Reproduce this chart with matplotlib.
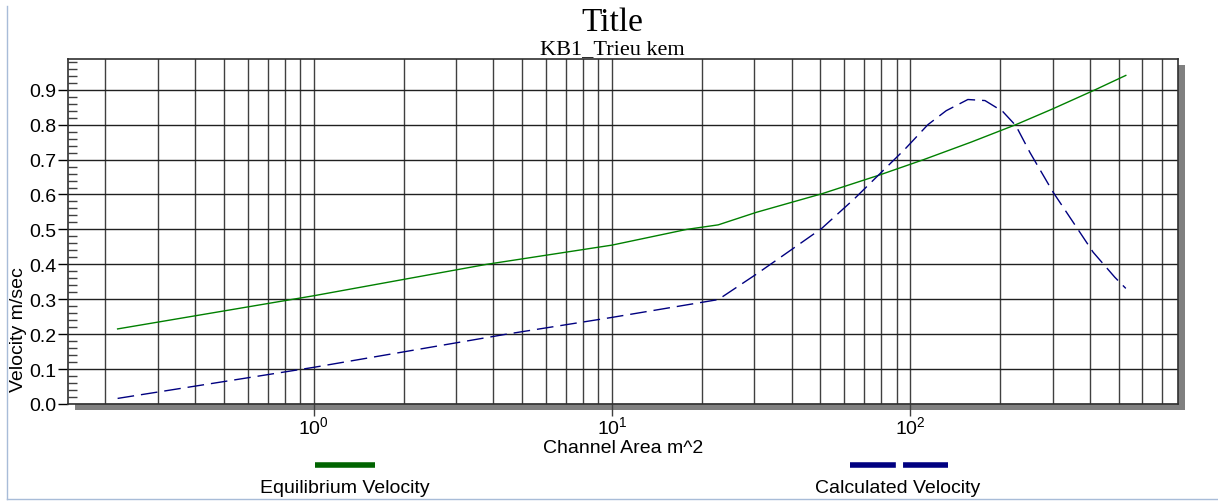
import matplotlib
matplotlib.use("Agg")
import matplotlib.pyplot as plt
from matplotlib.ticker import LogLocator, MultipleLocator, FixedLocator, NullFormatter
from matplotlib.patches import Rectangle
from matplotlib.lines import Line2D

plt.rcParams['font.family'] = ['Liberation Sans', 'DejaVu Sans']
plt.rcParams['mathtext.fontset'] = 'custom'
plt.rcParams['mathtext.rm'] = 'Liberation Sans'

# Equilibrium velocity (green, solid)
eq_area = [0.22, 1.0, 3.8, 10, 17.8, 22.7, 30.5, 50.5, 79, 111, 160, 226, 300, 417, 528]
eq_vel = [0.215, 0.31, 0.40, 0.455, 0.50, 0.513, 0.549, 0.602, 0.656, 0.70, 0.75, 0.80, 0.845, 0.90, 0.941]

# Calculated velocity (blue, dashed)
calc_area = [0.22, 1.0, 4.43, 10, 22.7, 30.5, 39.5, 50.5, 65, 79, 96, 114.6, 132,
             156, 178, 204, 226, 252, 301, 361, 410, 485, 528]
calc_vel = [0.016, 0.105, 0.20, 0.248, 0.299, 0.372, 0.439, 0.503, 0.588, 0.659, 0.73,
            0.80, 0.84, 0.872, 0.869, 0.838, 0.797, 0.72, 0.607, 0.506, 0.435, 0.363, 0.331]

W, H = 1218, 502
fig = plt.figure(figsize=(W / 100, H / 100), dpi=100)

x0, x1, y0, y1 = 68, 1178, 60, 405
ax = fig.add_axes([x0 / W, 1 - y1 / H, (x1 - x0) / W, (y1 - y0) / H])

# drop shadow behind the plot box
fig.patches.append(Rectangle(((x0 + 7) / W, 1 - (y1 + 6) / H), (x1 - x0) / W, (y1 - y0) / H,
                             transform=fig.transFigure, facecolor='#808080',
                             edgecolor='none', zorder=0))
ax.set_zorder(1)

ax.plot(eq_area, eq_vel, color='#008000', lw=1.0, zorder=3)
ax.plot(calc_area, calc_vel, color='#000080', lw=1.0, dashes=(12, 5), zorder=3)

ax.set_xscale('log')
ax.set_xlim(0.15, 790)
ax.set_ylim(0, 0.988)

ax.xaxis.set_major_locator(FixedLocator([1, 10, 100]))
ax.xaxis.set_major_formatter(matplotlib.ticker.FixedFormatter(['$10^{0}$', '$10^{1}$', '$10^{2}$']))
ax.xaxis.set_minor_locator(LogLocator(base=10, subs=range(2, 10)))
ax.xaxis.set_minor_formatter(NullFormatter())
ax.yaxis.set_major_locator(MultipleLocator(0.1))
ax.yaxis.set_minor_locator(MultipleLocator(0.02))
ax.yaxis.set_major_formatter(matplotlib.ticker.FormatStrFormatter('%.1f'))

ax.tick_params(axis='x', which='major', length=8.6, width=1, color='#404040', pad=0, labelsize=14)
ax.tick_params(axis='x', which='minor', length=0)
ax.tick_params(axis='y', which='major', length=7.2, width=1, pad=1, labelsize=14)
ax.tick_params(axis='y', which='minor', direction='in', length=6.5, width=1, color='#404040')

ax.grid(which='both', axis='x', color='#404040', lw=1.0)
ax.grid(which='major', axis='y', color='#202020', lw=1.0)
ax.set_axisbelow(True)
for s in ax.spines.values():
    s.set_color('#303030')
    s.set_linewidth(1.2)

fig.text(612 / W, 1 - 23 / H, 'Title', family='Liberation Serif', fontsize=24,
         ha='center', va='center')
fig.text(612 / W, 1 - 50 / H, 'KB1_Trieu kem', family='Liberation Serif', fontsize=16,
         ha='center', va='center')
fig.text(623 / W, 1 - 453 / H, 'Channel Area m^2', fontsize=14, ha='center', va='baseline')
fig.text(19 / W, 1 - 330 / H, 'Velocity m/sec', fontsize=14, rotation=90,
         ha='center', va='center')

# legend keys drawn below the axis
fig.add_artist(Line2D([315 / W, 375 / W], [1 - 466 / H] * 2, transform=fig.transFigure,
                      color='#006400', lw=4, solid_capstyle='butt'))
fig.add_artist(Line2D([850 / W, 948 / W], [1 - 466 / H] * 2, transform=fig.transFigure,
                      color='#000080', lw=4, dashes=(8.25, 1.3), dash_capstyle='butt'))
fig.text(345 / W, 1 - 489 / H, 'Equilibrium Velocity', fontsize=14, ha='center', va='center')
fig.text(898 / W, 1 - 489 / H, 'Calculated Velocity', fontsize=14, ha='center', va='center')

# thin frame lines on left and bottom
fig.add_artist(Line2D([7 / W, 7 / W], [1 - 7 / H, 1 - 500 / H], transform=fig.transFigure,
                      color='#a8bcd8', lw=1))
fig.add_artist(Line2D([7 / W, 1], [1 - 500 / H] * 2, transform=fig.transFigure,
                      color='#a8bcd8', lw=1))

fig.savefig('out.png', dpi=100)
